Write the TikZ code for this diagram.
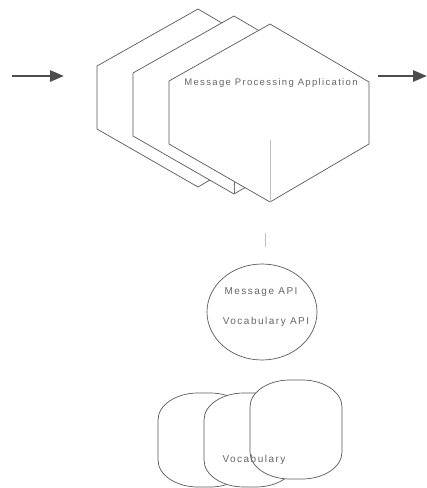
\documentclass[tikz,border=0pt]{standalone}
\usepackage{fontspec}
\setmainfont{Liberation Sans}
\usetikzlibrary{arrows.meta,shapes.geometric}
\tikzset{
  cube/.style={draw=black!65, fill=white, line width=0.7pt, line join=round},
  inner/.style={draw=black!25, line width=0.6pt},
  flow/.style={draw=black!70, line width=2.8pt, -{Triangle[length=14pt,width=11pt]}},
  blob/.style={draw=black!65, fill=white, line width=0.7pt},
  lbl/.style={text=black!60, inner sep=0pt, font=\fontsize{10}{12}\addfontfeatures{LetterSpace=15}\selectfont},
}
% store outline: x0, y0 (top), x1, y1 (bottom)
\newcommand\vocstore[4]{%
  \draw[blob] (#1,#2+27) -- (#1,#4-27)
    arc[start angle=180,end angle=90,x radius=40,y radius=27] -- (#3-40,#4)
    arc[start angle=90,end angle=0,x radius=40,y radius=27] -- (#3,#2+27)
    arc[start angle=0,end angle=-90,x radius=40,y radius=27] -- (#1+40,#2)
    arc[start angle=-90,end angle=-180,x radius=40,y radius=27] -- cycle;}
\begin{document}
\begin{tikzpicture}[x=1pt,y=-1pt]
\useasboundingbox (0,0) rectangle (427,488);
% cubes
\foreach \dx/\dy in {-72/-15,-36/-8,0/0}{
  \begin{scope}[shift={(\dx,\dy)}]
    \draw[cube] (270,24) -- (369,82) -- (369,144) -- (270,202) -- (169,144) -- (169,81) -- cycle;
  \end{scope}
}
\coordinate (c3mid) at (270,140);
\coordinate (c3bot) at (270,202);
\draw[inner] (c3mid) -- (c3bot);
\coordinate (c2edge) at (234,181);
\coordinate (c2bot) at (234,194);
\draw[draw=black!55, line width=0.6pt] (c2edge) -- (c2bot);
\node[lbl, font=\fontsize{9.5}{12}\addfontfeatures{LetterSpace=14}\selectfont] (mpa) at (271,83) {Message Processing Application};
% arrows
\coordinate (inA) at (12,76);
\coordinate (inB) at (64,76);
\coordinate (outA) at (378,76);
\coordinate (outB) at (427,76);
\draw[flow] (inA) -- (inB);
\draw[flow] (outA) -- (outB);
% API ellipse
\node[draw=black!65, line width=0.7pt, ellipse, minimum width=110pt, minimum height=96pt, inner sep=0pt] (api) at (262,312) {};
\coordinate (linkA) at (265,233);
\coordinate (linkB) at (265,247);
\draw[inner] (linkA) -- (linkB);
\node[lbl] (msg) at (261,292) {Message API};
\node[lbl] (voc) at (266,322) {Vocabulary API};
% vocabulary stores
\vocstore{158}{393}{250}{487}
\vocstore{204}{393}{296}{487}
\vocstore{250}{380}{342}{479}
\node[lbl] (vocab) at (254,460) {Vocabulary};
\end{tikzpicture}
\end{document}
